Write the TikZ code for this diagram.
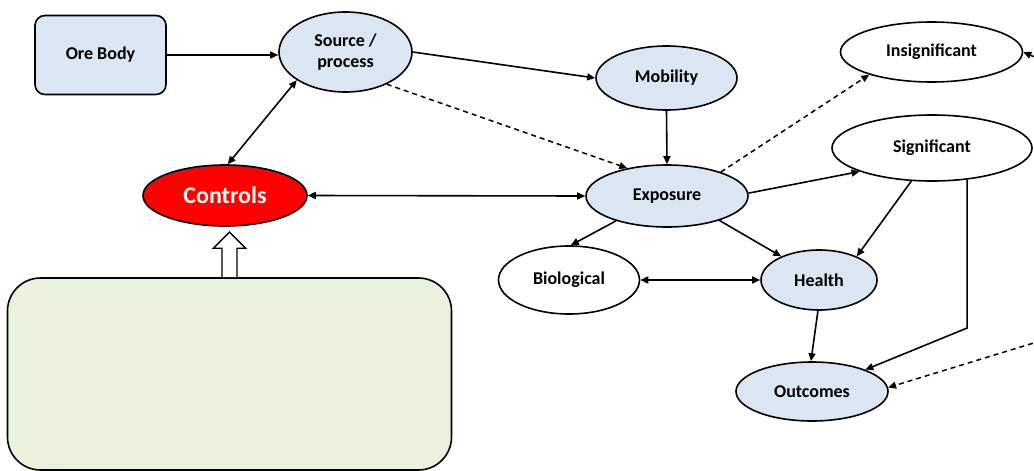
\documentclass[tikz,border=0pt]{standalone}
\usepackage{fontspec}
\setmainfont{Carlito}
\usetikzlibrary{shapes.geometric,arrows.meta}

\definecolor{paleblue}{HTML}{DCE6F2}
\definecolor{palegreen}{HTML}{EAF1DD}
\definecolor{ctrlred}{HTML}{FF0000}

\tikzset{
  lbl/.style={font=\fontsize{18}{21}\selectfont\bfseries, inner sep=0pt, align=center},
  oval/.style={ellipse, draw, line width=1.6pt, lbl},
  blueoval/.style={oval, fill=paleblue},
  whiteoval/.style={oval, fill=white},
  tip/.style={Triangle[length=8pt,width=7pt]},
  arr/.style={line width=1.6pt, -{Triangle[length=8pt,width=7pt]}},
  darr/.style={line width=1.6pt, {Triangle[length=8pt,width=7pt]}-{Triangle[length=8pt,width=7pt]}},
  dasharr/.style={line width=1.5pt, dash pattern=on 5pt off 4pt, -{Triangle[length=8pt,width=7pt]}},
}

\begin{document}
\begin{tikzpicture}[x=1pt,y=-1pt]
\useasboundingbox (0,0) rectangle (1034,471);

% process boxes and states
\node[draw, line width=1.6pt, fill=paleblue, rounded corners=10pt, minimum width=131pt, minimum height=79pt, lbl]
  (ore) at (100.5,55) {Ore Body};
\node[blueoval, minimum width=133pt, minimum height=80pt] (src) at (345.5,52) {Source /\\process};
\node[blueoval, minimum width=141pt, minimum height=64pt] (mob) at (666.5,78) {Mobility};
\node[whiteoval, minimum width=182pt, minimum height=60pt] (ins) at (931.5,52) {Insignificant};
\node[whiteoval, minimum width=200pt, minimum height=66pt] (sig) at (932,148) {Significant};
\node[blueoval, minimum width=162pt, minimum height=62pt] (exp) at (667,196) {Exposure};
\node[ellipse, draw, line width=1.6pt, fill=ctrlred, text=white, inner sep=0pt,
  font=\fontsize{24}{28}\selectfont\bfseries, minimum width=164pt, minimum height=61pt]
  (ctl) at (225,195.5) {Controls};
\node[whiteoval, minimum width=141pt, minimum height=68pt] (bio) at (569,280) {Biological};
\node[blueoval, minimum width=116pt, minimum height=60pt] (hl) at (819,280) {Health};
\node[blueoval, minimum width=152pt, minimum height=59pt] (out) at (812,391.5) {Outcomes};

% empty green panel feeding the controls
\node[draw, line width=1.6pt, fill=palegreen, rounded corners=33pt,
  minimum width=444pt, minimum height=192pt, inner sep=0pt] (panel) at (229.5,374) {};

% hollow block arrow from the panel up to the controls
\draw[line width=1.4pt, fill=white, shift={(panel.north)}]
  (-7.5,0) -- (-7.5,-29) -- (-16,-29) -- (0,-45) -- (16,-29) -- (7.5,-29) -- (7.5,0);

% connectors
\draw[arr] (ore.east) -- (ore.east -| src.west);
\draw[arr] (src.east) -- (mob.west);
\draw[dasharr] (src.-38) -- (exp.145);
\draw[darr] (src.210) -- (ctl.85);
\draw[arr] (mob.south) -- (exp.north);
\draw[darr] (ctl.east) -- (exp.west);
\draw[dasharr] (exp.24) -- (ins.200);
\draw[arr] (exp.2) -- (sig.198);
\draw[arr] (exp.206) -- (bio.87);
\draw[arr] (exp.-25) -- (hl.148);
\draw[darr] (bio.east) -- (hl.west);
\draw[arr] (sig.238) -- (hl.32);
\draw[arr] (hl.268) -- (out.92);
\coordinate (bendrow) at (0,328);
\draw[arr] (sig.-42) -- (sig.-42 |- bendrow) -- (out);

% dashed arrivals from beyond the right edge
\coordinate (offins) at (1050,64);
\coordinate (offout) at (1050,338);
\draw[dasharr] (offins) -- (ins.east);
\draw[dasharr] (offout) -- (out.3);
\end{tikzpicture}
\end{document}
